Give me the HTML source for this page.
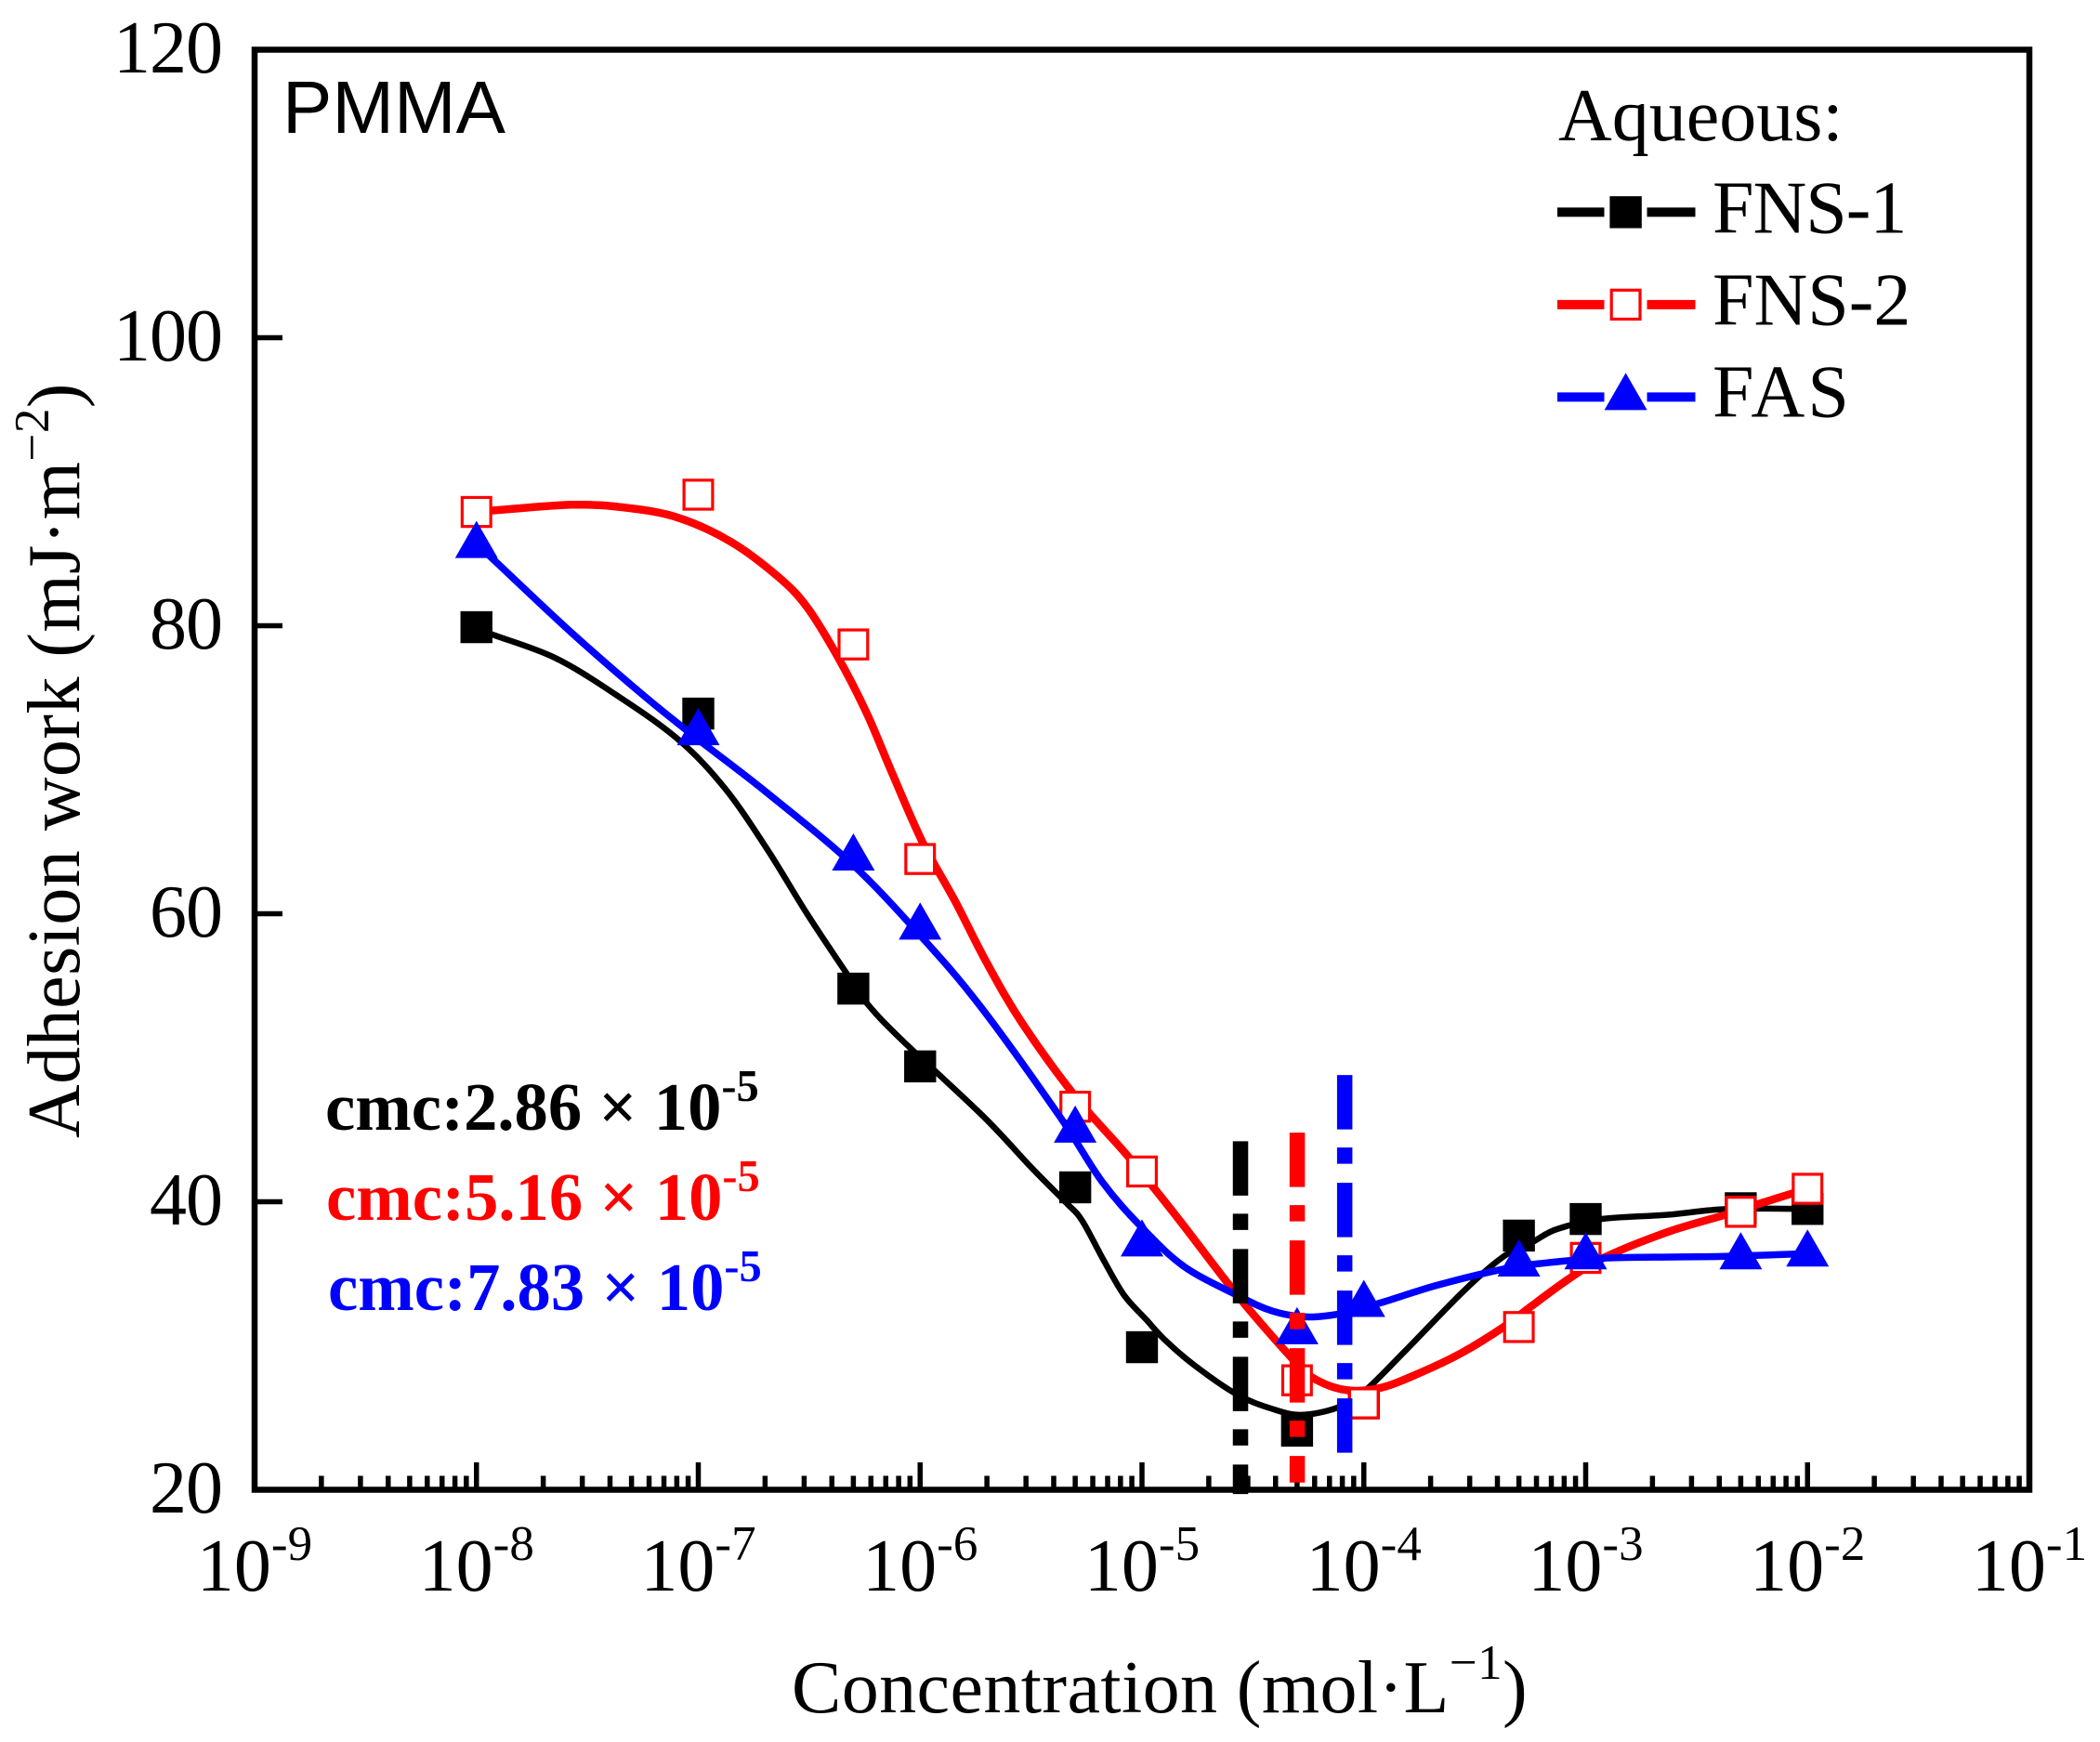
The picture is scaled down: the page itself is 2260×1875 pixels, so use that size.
<!DOCTYPE html>
<html lang="en">
<head>
<meta charset="utf-8">
<title>PMMA adhesion work vs concentration</title>
<style>
html,body{margin:0;padding:0;background:#fff;}
svg{display:block;}
text{font-family:"Liberation Serif",serif;fill:#000;}
</style>
</head>
<body>
<svg id="chart" xmlns="http://www.w3.org/2000/svg" width="2260" height="1875" viewBox="0 0 2260 1875">
  <rect x="0" y="0" width="2260" height="1875" fill="#fff"/>
  <g id="axes"></g>
  <g id="plot"></g>
  <text x="304" y="143" font-size="80" style="font-family:'Liberation Sans',sans-serif">PMMA</text>
  <text transform="translate(85,1225) rotate(-90)" font-size="80" letter-spacing="0.45">Adhesion work (mJ·m<tspan font-size="53" dy="-33">−2</tspan><tspan dy="33">)</tspan></text>
  <text x="852" y="1843" font-size="80" letter-spacing="0.4">Concentration (mol·L<tspan font-size="53" dy="-36">−1</tspan><tspan dy="36">)</tspan></text>
  <g id="legend">
    <text x="1677" y="151" font-size="80">Aqueous:</text>
  </g>
  <text x="350" y="1216" font-size="72.6" font-weight="bold" style="fill:#000">cmc:2.86 × 10<tspan font-size="48.5" dy="-31" style="fill:#000">-5</tspan></text>
  <text x="351" y="1313" font-size="72.6" font-weight="bold" style="fill:#ff0000">cmc:5.16 × 10<tspan font-size="48.5" dy="-31" style="fill:#ff0000">-5</tspan></text>
  <text x="353" y="1410" font-size="72.6" font-weight="bold" style="fill:#0000ff">cmc:7.83 × 10<tspan font-size="48.5" dy="-31" style="fill:#0000ff">-5</tspan></text>
</svg>
<script>
// ---- Data ----
const concentrations = [1e-8, 1e-7, 5e-7, 1e-6, 5e-6, 1e-5, 5e-5, 1e-4, 5e-4, 1e-3, 5e-3, 1e-2];
const fns1Values = [79.9, 73.9, 54.8, 49.4, 41.0, 29.9, 24.1, 26.0, 37.65, 38.8, 39.55, 39.5];
const fns2Values = [87.9, 89.1, 78.7, 63.8, 46.6, 42.1, 27.6, 26.0, 31.3, 36.1, 39.3, 40.9];
const fasValues = [85.8, 72.8, 64.1, 59.3, 45.2, 37.3, 31.2, 33.1, 35.9, 36.4, 36.4, 36.6];

// Smoothed curves (log10 concentration, value)
const fns1CurveLog = [-8.00, -7.93, -7.65, -7.38, -7.09, -6.88, -6.69, -6.51, -6.32, -6.23, -6.08, -5.72, -5.50, -5.34, -5.27, -5.175, -5.08, -4.98, -4.89, -4.76, -4.57, -4.41, -4.28, -4.12, -4.00, -3.81, -3.55, -3.37, -3.24, -3.13, -2.93, -2.63, -2.36, -2.00];
const fns1CurveVal = [79.9, 79.4, 77.8, 75.3, 72.1, 68.7, 64.5, 60.0, 55.6, 53.6, 51.2, 46.0, 42.4, 39.9, 38.7, 36.0, 33.5, 31.8, 30.3, 28.6, 26.6, 25.6, 25.2, 25.7, 26.8, 29.7, 33.8, 36.2, 37.2, 38.1, 38.8, 39.1, 39.5, 39.5];
const fns2CurveLog = [-8.00, -7.93, -7.57, -7.33, -7.09, -6.85, -6.64, -6.51, -6.37, -6.24, -6.13, -5.99, -5.84, -5.70, -5.54, -5.30, -5.06, -4.84, -4.57, -4.31, -4.21, -4.07, -3.92, -3.75, -3.56, -3.37, -3.24, -3.08, -2.92, -2.63, -2.37, -2.23, -2.00];
const fns2CurveVal = [88.0, 88.0, 88.4, 88.2, 87.5, 85.8, 83.4, 81.3, 77.8, 73.9, 69.9, 65.0, 60.8, 56.6, 52.4, 47.3, 43.1, 38.9, 33.5, 28.9, 27.6, 26.9, 27.1, 28.1, 29.5, 31.3, 32.8, 34.6, 36.1, 37.9, 39.1, 39.8, 40.9];
const fasCurveLog = [-8.00, -7.91, -7.57, -7.25, -7.00, -6.69, -6.31, -6.00, -5.73, -5.37, -5.18, -5.00, -4.81, -4.57, -4.41, -4.25, -4.08, -3.92, -3.67, -3.38, -3.21, -2.90, -2.39, -2.00];
const fasCurveVal = [85.7, 84.4, 79.5, 75.2, 72.1, 68.4, 63.5, 58.5, 53.6, 45.9, 41.4, 38.2, 35.5, 33.5, 32.4, 32.0, 32.3, 33.0, 34.2, 35.3, 35.7, 36.1, 36.2, 36.4];

// Vertical cmc markers: where each is drawn on the concentration axis and value range
const cmcConcentrations = [2.78e-5, 5.01e-5, 8.2e-5];
const cmcTopValues = [44.2, 44.8, 48.8];
const cmcBottomValues = [19.7, 20.5, 22.5];

// Axis ticks
const yTickValues = [20, 40, 60, 80, 100, 120];
const xTickExponents = [-9, -8, -7, -6, -5, -4, -3, -2, -1];
const xMinorMultipliers = [2, 3, 4, 5, 6, 7, 8, 9];

// ---- Axis functions ----
const plotLeft = 274, plotRight = 2184, plotTop = 53.5, plotBottom = 1603.5;
const xMinExp = -9, xMaxExp = -1, yMin = 20, yMax = 120;
function xFromLog(l) { return plotLeft + (l - xMinExp) / (xMaxExp - xMinExp) * (plotRight - plotLeft); }
function xScale(c) { return xFromLog(Math.log10(c)); }
function yScale(v) { return plotBottom - (v - yMin) / (yMax - yMin) * (plotBottom - plotTop); }

const SVGNS = 'http://www.w3.org/2000/svg';
function make(tag, attrs, parent) {
  const el = document.createElementNS(SVGNS, tag);
  for (const k in attrs) el.setAttribute(k, attrs[k]);
  parent.appendChild(el);
  return el;
}
function smoothPath(pts) {
  let d = 'M' + pts[0][0].toFixed(1) + ' ' + pts[0][1].toFixed(1);
  for (let i = 0; i < pts.length - 1; i++) {
    const p0 = pts[Math.max(i - 1, 0)], p1 = pts[i], p2 = pts[i + 1], p3 = pts[Math.min(i + 2, pts.length - 1)];
    const c1x = p1[0] + (p2[0] - p0[0]) / 6, c1y = p1[1] + (p2[1] - p0[1]) / 6;
    const c2x = p2[0] - (p3[0] - p1[0]) / 6, c2y = p2[1] - (p3[1] - p1[1]) / 6;
    d += 'C' + c1x.toFixed(1) + ' ' + c1y.toFixed(1) + ' ' + c2x.toFixed(1) + ' ' + c2y.toFixed(1) + ' ' + p2[0].toFixed(1) + ' ' + p2[1].toFixed(1);
  }
  return d;
}
function drawMarker(kind, cx, cy, color, parent) {
  if (kind === 'filled-square') {
    return make('rect', { x: cx - 17.2, y: cy - 17.2, width: 34.4, height: 34.4, fill: color }, parent);
  }
  if (kind === 'open-square') {
    return make('rect', { x: cx - 15.4, y: cy - 15.6, width: 30.8, height: 31.2, fill: '#fff', stroke: color, 'stroke-width': 3.2 }, parent);
  }
  const pts = (cx - 23) + ',' + (cy + 17) + ' ' + (cx + 23) + ',' + (cy + 17) + ' ' + cx + ',' + (cy - 23);
  return make('polygon', { points: pts, fill: color }, parent);
}

// ---- Axes ----
const axes = document.getElementById('axes');
const frame = make('rect', { x: plotLeft, y: plotTop, width: plotRight - plotLeft, height: plotBottom - plotTop, fill: 'none', stroke: '#000', 'stroke-width': 6.5 }, axes);



yTickValues.forEach(function (v) {
  const y = yScale(v);
  const tick = make('line', { x1: plotLeft, x2: plotLeft + 30, y1: y, y2: y, stroke: '#000', 'stroke-width': 5.5 }, axes);
  
  
  const label = make('text', { x: 239, y: y + 24.5, 'font-size': 80, 'text-anchor': 'end', 'letter-spacing': -1 }, axes);
  label.textContent = String(v);
  
  
});

xTickExponents.forEach(function (e, i) {
  const x = xFromLog(e);
  const tick = make('line', { x1: x, x2: x, y1: plotBottom, y2: plotBottom - 29.5, stroke: '#000', 'stroke-width': 5.5 }, axes);
  
  
  if (i < xTickExponents.length - 1) {
    xMinorMultipliers.forEach(function (m) {
      const mx = xScale(m * Math.pow(10, e));
      const minor = make('line', { x1: mx, x2: mx, y1: plotBottom, y2: plotBottom - 15, stroke: '#000', 'stroke-width': 5.5 }, axes);
      
      
    });
  }
  const label = make('text', { x: x, y: 1712, 'font-size': 80, 'text-anchor': 'middle' }, axes);
  
  
  const base = make('tspan', {}, label);
  base.textContent = '10';
  const sup = make('tspan', { 'font-size': 53, dy: -33 }, label);
  sup.textContent = String(e);
});

// ---- Series ----
const plot = document.getElementById('plot');
function drawSeries(name, values, curveLog, curveVal, color, marker, curveWidth) {
  const g = make('g', {}, plot);
  
  
  const pts = curveLog.map(function (l, i) { return [xFromLog(l), yScale(curveVal[i])]; });
  const curve = make('path', { d: smoothPath(pts), fill: 'none', stroke: color, 'stroke-width': curveWidth, 'stroke-linejoin': 'round' }, g);
  
  
  values.forEach(function (v, i) {
    const m = drawMarker(marker, xScale(concentrations[i]), yScale(v), color, g);
    
    
  });
}
drawSeries('fns-1', fns1Values, fns1CurveLog, fns1CurveVal, '#000', 'filled-square', 6.5);
drawSeries('fns-2', fns2Values, fns2CurveLog, fns2CurveVal, '#ff0000', 'open-square', 8.5);
drawSeries('fas', fasValues, fasCurveLog, fasCurveVal, '#0000ff', 'triangle', 7.5);

// ---- cmc lines ----
const cmcColors = ['#000', '#ff0000', '#0000ff'];
const cmcNames = ['fns-1', 'fns-2', 'fas'];
cmcConcentrations.forEach(function (c, i) {
  const x = xScale(c);
  const line = make('line', { x1: x, x2: x, y1: yScale(cmcTopValues[i]), y2: yScale(cmcBottomValues[i]), stroke: cmcColors[i], 'stroke-width': 16.5, 'stroke-dasharray': '58.5 19.5 17.5 20.5' }, plot);
  
  
});

// ---- Legend ----
const legend = document.getElementById('legend');
const legendLabels = ['FNS-1', 'FNS-2', 'FAS'];
const legendLabelSpacing = [-1, 0, 3];
const legendMarkers = ['filled-square', 'open-square', 'triangle'];
legendLabels.forEach(function (name, i) {
  const g = make('g', {}, legend);
  
  
  const ly = 228.4 + i * 99.5;
  const left = make('line', { x1: 1676, x2: 1726.5, y1: ly, y2: ly, stroke: cmcColors[i], 'stroke-width': 10 }, g);
  
  
  const right = make('line', { x1: 1772.5, x2: 1824.5, y1: ly, y2: ly, stroke: cmcColors[i], 'stroke-width': 10 }, g);
  
  
  const m = drawMarker(legendMarkers[i], 1749.6, legendMarkers[i] === 'triangle' ? ly - 3 : ly, cmcColors[i], g);
  
  
  const t = make('text', { x: 1843, y: 250.6 + i * 98.9, 'font-size': 80, 'letter-spacing': legendLabelSpacing[i] }, g);
  t.textContent = name;
  
  
});
</script>
</body>
</html>
